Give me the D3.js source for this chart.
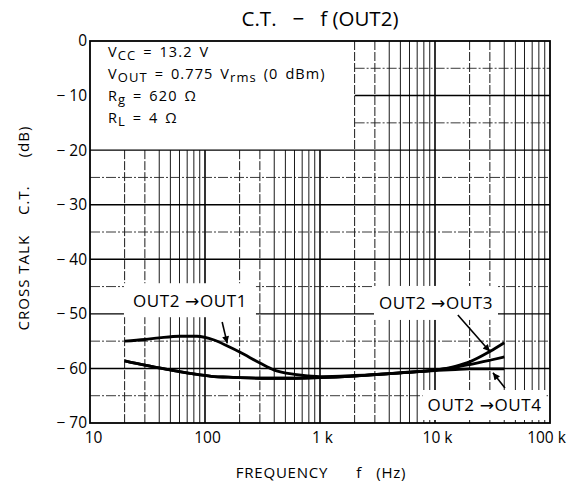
<!DOCTYPE html>
<html>
<head>
<meta charset="utf-8">
<script src="https://cdn.jsdelivr.net/npm/d3@7/dist/d3.min.js"></script>
<style>
  html, body { margin: 0; padding: 0; background: #fff; }
  svg { display: block; font-family: "Open Sans", "DejaVu Sans", sans-serif; }
</style>
</head>
<body>
<svg id="chart" width="569" height="488"></svg>
<script>
// ---- data ----
const freqs = [20, 30, 40, 60, 85, 120, 160, 200, 300, 400, 600, 1000, 2000, 5000, 10000, 15000, 20000, 30000, 40000];
const out1 = [-55.0, -54.7, -54.4, -54.1, -54.1, -54.8, -56.0, -57.0, -59.0, -60.3, -61.1, -61.5, -61.3, -60.8, -60.3, -59.8, -59.3, -58.5, -57.9];
const out3 = [-58.6, -59.4, -59.9, -60.6, -61.1, -61.5, -61.6, -61.7, -61.8, -61.8, -61.8, -61.7, -61.4, -60.8, -60.3, -59.6, -58.8, -56.9, -55.3];
const out4 = [-58.6, -59.4, -59.9, -60.6, -61.1, -61.5, -61.6, -61.7, -61.8, -61.8, -61.8, -61.7, -61.4, -60.8, -60.4, -60.2, -60.1, -60.1, -60.1];

const xTickValues = [10, 100, 1000, 10000, 100000];
const xTickLabels = ["10", "100", "1 k", "10 k", "100 k"];
const yTickValues = [0, -10, -20, -30, -40, -50, -60, -70];
const yTickLabels = ["0", "\u2212 10", "\u2212 20", "\u2212 30", "\u2212 40", "\u2212 50", "\u2212 60", "\u2212 70"];

// annotation anchors in data space [freq, dB]
const annOut1 = { text: "OUT2 \u2192OUT1", at: [74, -47.5], from: [141, -51.5], to: [156, -55.4] };
const annOut3 = { text: "OUT2 \u2192OUT3", at: [10200, -48.0], from: [15800, -50.2], to: [30000, -56.9] };
const annOut4 = { text: "OUT2 \u2192OUT4", at: [27000, -66.7], from: [40600, -63.6], to: [31900, -60.8] };

// ---- layout ----
const svg = d3.select("#chart");
const L = 90, R = 550, T = 41, B = 423;
const x = d3.scaleLog().domain([10, 100000]).range([L, R]);
const y = d3.scaleLinear().domain([0, -70]).range([T, B]);

// grid
const grid = svg.append("g");
const minorX = [];
for (let d = 10; d < 100000; d *= 10) for (let k = 2; k <= 9; k++) minorX.push(d * k);
const boxF = 2000, boxDb = -20; // legend box covers grid left of 2k and above -20 dB

function vTop(f) { return (f < boxF) ? y(boxDb) : T; }
grid.selectAll(".vminor").data(minorX).join("line")
  .attr("x1", d => x(d)).attr("x2", d => x(d))
  .attr("y1", d => vTop(d)).attr("y2", B)
  .attr("stroke", "#1a1a1a").attr("stroke-width", 1)
  .attr("stroke-dasharray", d => ([2, 3].includes(Math.round(d / Math.pow(10, Math.floor(Math.log10(d)))))) ? "9,2" : null);
grid.selectAll(".vmajor").data([100, 1000, 10000]).join("line")
  .attr("x1", d => x(d)).attr("x2", d => x(d))
  .attr("y1", d => vTop(d)).attr("y2", B)
  .attr("stroke", "#000").attr("stroke-width", 1.6);

const hMinor = [-5, -15, -25, -35, -45, -55, -65];
grid.selectAll(".hminor").data(hMinor).join("line")
  .attr("x1", d => d > boxDb ? x(boxF) : L).attr("x2", R)
  .attr("y1", d => y(d)).attr("y2", d => y(d))
  .attr("stroke", "#222").attr("stroke-width", 0.9)
  .attr("stroke-dasharray", "10,2,2,2");
grid.selectAll(".hmajor").data([-10, -20, -30, -40, -50, -60]).join("line")
  .attr("x1", d => d > boxDb ? x(boxF) : L).attr("x2", R)
  .attr("y1", d => y(d)).attr("y2", d => y(d))
  .attr("stroke", "#000").attr("stroke-width", 1.4);

// label backgrounds
function labelBox(a, w, h) {
  const cx = x(a.at[0]), cy = y(a.at[1]);
  svg.append("rect").attr("x", cx - w / 2).attr("y", cy - h / 2).attr("width", w).attr("height", h).attr("fill", "#fff");
}
labelBox(annOut1, 132, 34);
labelBox(annOut3, 124, 34);
labelBox(annOut4, 124, 30);

// frame
svg.append("rect").attr("x", L).attr("y", T).attr("width", R - L).attr("height", B - T)
  .attr("fill", "none").attr("stroke", "#000").attr("stroke-width", 1.8);

// axes (labels only)
const xAxis = svg.append("g").attr("transform", `translate(0,${B})`)
  .call(d3.axisBottom(x).tickValues(xTickValues).tickSize(0).tickPadding(9)
    .tickFormat((d, i) => xTickLabels[i]));
xAxis.select(".domain").remove();
xAxis.selectAll("text").attr("font-size", 15.5).attr("fill", "#000")
  .attr("font-family", "'Open Sans', sans-serif")
  .attr("dx", (d, i) => i === xTickLabels.length - 1 ? -4 : (i === 0 ? 3 : 2));

const yAxis = svg.append("g").attr("transform", `translate(${L},0)`)
  .call(d3.axisLeft(y).tickValues(yTickValues).tickSize(0).tickPadding(3)
    .tickFormat((d, i) => yTickLabels[i]));
yAxis.select(".domain").remove();
yAxis.selectAll("text").attr("font-size", 15.5).attr("fill", "#000")
  .attr("font-family", "'Open Sans', sans-serif").attr("xml:space", "preserve");

// curves
const line = d3.line().x((d, i) => x(freqs[i])).y(d => y(d)).curve(d3.curveMonotoneX);
[out3, out4, out1].forEach(s => {
  svg.append("path").attr("d", line(s)).attr("fill", "none")
    .attr("stroke", "#000").attr("stroke-width", 2.8).attr("stroke-linejoin", "round");
});

// annotations
svg.append("defs").append("marker").attr("id", "ah").attr("viewBox", "0 0 10 10")
  .attr("refX", 10).attr("refY", 5).attr("markerWidth", 10).attr("markerHeight", 7)
  .attr("markerUnits", "userSpaceOnUse").attr("orient", "auto")
  .append("path").attr("d", "M0,0 L10,5 L0,10 z").attr("fill", "#000");
[annOut1, annOut3, annOut4].forEach(a => {
  svg.append("text").attr("x", x(a.at[0])).attr("y", y(a.at[1]))
    .attr("text-anchor", "middle").attr("dominant-baseline", "central")
    .attr("font-size", 17).attr("letter-spacing", 0.6).text(a.text);
  svg.append("line").attr("x1", x(a.from[0])).attr("y1", y(a.from[1]))
    .attr("x2", x(a.to[0])).attr("y2", y(a.to[1]))
    .attr("stroke", "#000").attr("stroke-width", 1.6).attr("marker-end", "url(#ah)");
});

// legend text
const leg = svg.append("g").attr("font-size", 14.5).attr("fill", "#000")
  .attr("letter-spacing", 1.1).attr("word-spacing", 2);
function legLine(yy, parts) {
  const t = leg.append("text").attr("x", 108).attr("y", yy);
  parts.forEach(p => {
    const ts = t.append("tspan").text(p[0]);
    if (p[1] === "sub") ts.attr("baseline-shift", "-2.5").attr("font-size", 13);
  });
}
legLine(57, [["V"], ["CC", "sub"], [" = 13.2 V"]]);
legLine(79, [["V"], ["OUT", "sub"], [" = 0.775 V"], ["rms", "sub"], [" (0 dBm)"]]);
legLine(101, [["R"], ["g", "sub"], [" = 620 \u03A9"]]);
legLine(123, [["R"], ["L", "sub"], [" = 4 \u03A9"]]);

// titles
svg.append("text").attr("x", 320).attr("y", 26).attr("text-anchor", "middle")
  .attr("font-size", 20.5).attr("xml:space", "preserve").text("C.T.   \u2212   f (OUT2)");

const xt = svg.append("text").attr("x", 321).attr("y", 478).attr("text-anchor", "middle")
  .attr("font-size", 15).attr("letter-spacing", 0.8);
xt.append("tspan").text("FREQUENCY");
xt.append("tspan").attr("dx", 28).text("f");
xt.append("tspan").attr("dx", 14).text("(Hz)");

const yt = svg.append("text").attr("transform", "translate(29,228) rotate(-90)").attr("text-anchor", "middle")
  .attr("font-size", 15).attr("letter-spacing", 1);
yt.append("tspan").text("CROSS TALK");
yt.append("tspan").attr("dx", 20).text("C.T.");
yt.append("tspan").attr("dx", 28).text("(dB)");
</script>
</body>
</html>
